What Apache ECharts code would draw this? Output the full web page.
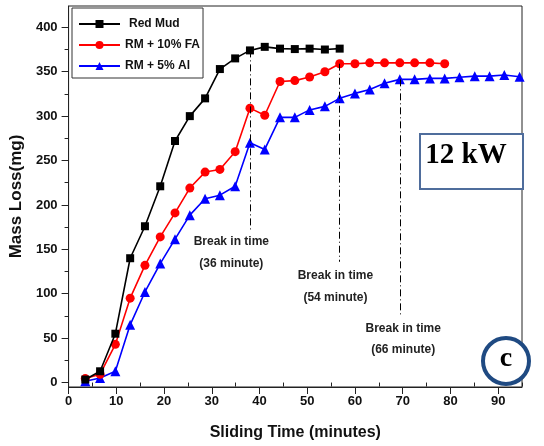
<!DOCTYPE html>
<html>
<head>
<meta charset="utf-8">
<script src="https://cdn.jsdelivr.net/npm/echarts@6/dist/echarts.min.js"></script>
<style>
  html, body { margin: 0; padding: 0; background: #ffffff; }
  #chart { width: 544px; height: 446px; }
</style>
</head>
<body>
<div id="chart"></div>
<script>
// Sampling times (minutes) along the sliding test
const sampleTimes = [3.5, 6.6, 9.8, 12.9, 16.0, 19.2, 22.3, 25.4, 28.6, 31.7, 34.9, 38.0, 41.1, 44.3, 47.4,
                     50.5, 53.7, 56.8, 60.0, 63.1, 66.2, 69.4, 72.5, 75.7, 78.8, 81.9, 85.1, 88.2, 91.3, 94.5];

// Mass loss (mg) for each mixture
const redMud = [3.4, 12.7, 55, 140, 176, 221, 272, 300, 320, 353, 365, 374, 378, 376, 375.5, 376, 375, 376];
const rm10FA = [4.5, 9.4, 43, 95, 132, 164, 191, 219, 237, 240, 260, 309, 301, 339, 340, 344, 350, 359, 359,
                360, 360, 360, 360, 360, 359];
const rm5Al  = [1.5, 5.2, 12.7, 65, 102, 134, 161.5, 188.5, 207, 211, 221, 270, 262.5, 298.6, 298.6, 307, 311,
                320, 325.6, 330, 337, 341.4, 341.4, 342.5, 342.5, 343.7, 345, 345, 346.3, 344.4];

const seriesNames = ['Red Mud', 'RM + 10% FA', 'RM + 5% Al'];

// Break-in-time markers: which sample they start from, how far down they run, and their note
const breakIndex   = [11, 17, 21];
const breakBottom  = [170, 136, 74];
const breakMinutes = [36, 54, 66];
const noteX = [34.1, 55.9, 70.1];
const noteY = [146, 108, 49];

// Axis ticks
const xTicks = [0, 10, 20, 30, 40, 50, 60, 70, 80, 90];
const xMinorTicks = [5, 15, 25, 35, 45, 55, 65, 75, 85, 95];
const yTicks = [0, 50, 100, 150, 200, 250, 300, 350, 400];
const yMinorTicks = [25, 75, 125, 175, 225, 275, 325, 375];

const X_MIN = 0, X_MAX = 95, Y_MIN = -5, Y_MAX = 424;

const pairs = vals => vals.map((v, i) => [sampleTimes[i], v]);
const seriesValues = [redMud, rm10FA, rm5Al];

const FONT = '"Liberation Sans", Arial, sans-serif';
const breakStyle = { color: '#000', width: 1, type: [7, 3, 1, 3] };

function breakLine(k) {
  const i = breakIndex[k];
  const x = sampleTimes[i];
  return [{ coord: [x, seriesValues[k][i]] }, { coord: [x, breakBottom[k]] }];
}
function breakNote(k) {
  return {
    coord: [noteX[k], noteY[k]],
    value: breakMinutes[k],
    label: { formatter: 'Break in time\n(' + breakMinutes[k] + ' minute)' }
  };
}

const styles = [
  { color: '#000000', symbol: 'rect', size: 8 },
  { color: '#ff0000', symbol: 'circle', size: 9 },
  { color: '#0000ff', symbol: 'triangle', size: 10 }
];

const series = seriesNames.map((name, k) => ({
  name: name,
  type: 'line',
  xAxisIndex: 0,
  yAxisIndex: 0,
  data: pairs(seriesValues[k]),
  symbol: styles[k].symbol,
  symbolSize: styles[k].size,
  showAllSymbol: true,
  color: styles[k].color,
  lineStyle: { width: 1.6, color: styles[k].color },
  itemStyle: { color: styles[k].color },
  z: 5 - k,
  markLine: {
    silent: true,
    symbol: ['none', 'none'],
    label: { show: false },
    lineStyle: breakStyle,
    data: [breakLine(k)]
  },
  markPoint: {
    silent: true,
    symbol: 'rect',
    symbolSize: 1,
    itemStyle: { color: 'rgba(0,0,0,0)' },
    label: {
      show: true,
      position: 'inside',
      color: '#222',
      fontFamily: FONT,
      fontWeight: 'bold',
      fontSize: 12,
      lineHeight: 21.5,
      align: 'center'
    },
    data: [breakNote(k)]
  }
}));

const chart = echarts.init(document.getElementById('chart'), null, { renderer: 'canvas' });
chart.setOption({
  animation: false,
  backgroundColor: '#ffffff',
  textStyle: { fontFamily: FONT },
  grid: {
    left: 67, right: 22, top: 6, bottom: 59,
    show: true, borderColor: '#222', borderWidth: 1, backgroundColor: 'transparent'
  },
  legend: {
    orient: 'vertical',
    left: 72, top: 8,
    padding: [9, 3, 5, 6],
    itemWidth: 41, itemHeight: 10, itemGap: 7,
    borderColor: '#333', borderWidth: 1,
    backgroundColor: '#fff',
    textStyle: { fontFamily: FONT, fontWeight: 'bold', fontSize: 12, color: '#111', lineHeight: 14 },
    data: [
      { name: seriesNames[0], textStyle: { padding: [0, 0, 0, 4] } },
      seriesNames[1],
      seriesNames[2]
    ]
  },
  xAxis: [
    {
      type: 'value', min: X_MIN, max: X_MAX,
      name: 'Sliding Time (minutes)', nameLocation: 'middle', nameGap: 38,
      nameTextStyle: { fontFamily: FONT, fontWeight: 'bold', fontSize: 16, color: '#111' },
      axisLine: { show: true, onZero: false, lineStyle: { color: '#222', width: 1 } },
      axisTick: { show: true, inside: false, length: 7, customValues: xTicks, lineStyle: { color: '#222' } },
      axisLabel: { customValues: xTicks, margin: 8, fontFamily: FONT, fontWeight: 'bold', fontSize: 13, color: '#111' },
      splitLine: { show: false }
    },
    {
      type: 'value', min: X_MIN, max: X_MAX, position: 'bottom',
      axisLine: { show: false },
      axisTick: { show: true, inside: false, length: 4, customValues: xMinorTicks, lineStyle: { color: '#222' } },
      axisLabel: { show: false },
      splitLine: { show: false }
    }
  ],
  yAxis: [
    {
      type: 'value', min: Y_MIN, max: Y_MAX,
      name: 'Mass Loss(mg)', nameLocation: 'middle', nameGap: 43, nameRotate: 90,
      nameTextStyle: { fontFamily: FONT, fontWeight: 'bold', fontSize: 17, color: '#111' },
      axisLine: { show: true, onZero: false, lineStyle: { color: '#222', width: 1 } },
      axisTick: { show: true, inside: false, length: 7, customValues: yTicks, lineStyle: { color: '#222' } },
      axisLabel: { customValues: yTicks, margin: 11, fontFamily: FONT, fontWeight: 'bold', fontSize: 13, color: '#111' },
      splitLine: { show: false }
    },
    {
      type: 'value', min: Y_MIN, max: Y_MAX, position: 'left',
      axisLine: { show: false },
      axisTick: { show: true, inside: false, length: 4, customValues: yMinorTicks, lineStyle: { color: '#222' } },
      axisLabel: { show: false },
      splitLine: { show: false }
    }
  ],
  series: series,
  graphic: [
    {
      type: 'rect', left: 419, top: 133, z: 10,
      shape: { width: 103, height: 55 },
      style: { fill: '#ffffff', stroke: '#4f6d9c', lineWidth: 2 }
    },
    {
      type: 'text', x: 466, y: 156, z: 11,
      style: { text: '12 kW', fill: '#000', font: 'bold 29px "Liberation Serif", "Times New Roman", serif',
               textAlign: 'center', textVerticalAlign: 'middle' }
    },
    {
      type: 'circle', x: 506, y: 361, z: 10,
      shape: { r: 23 },
      style: { fill: '#ffffff', stroke: '#1f4a82', lineWidth: 4 }
    },
    {
      type: 'text', x: 506, y: 359, z: 11,
      style: { text: 'c', fill: '#000', font: 'bold 28px "Liberation Serif", "Times New Roman", serif',
               textAlign: 'center', textVerticalAlign: 'middle' }
    }
  ]
});
</script>
</body>
</html>
